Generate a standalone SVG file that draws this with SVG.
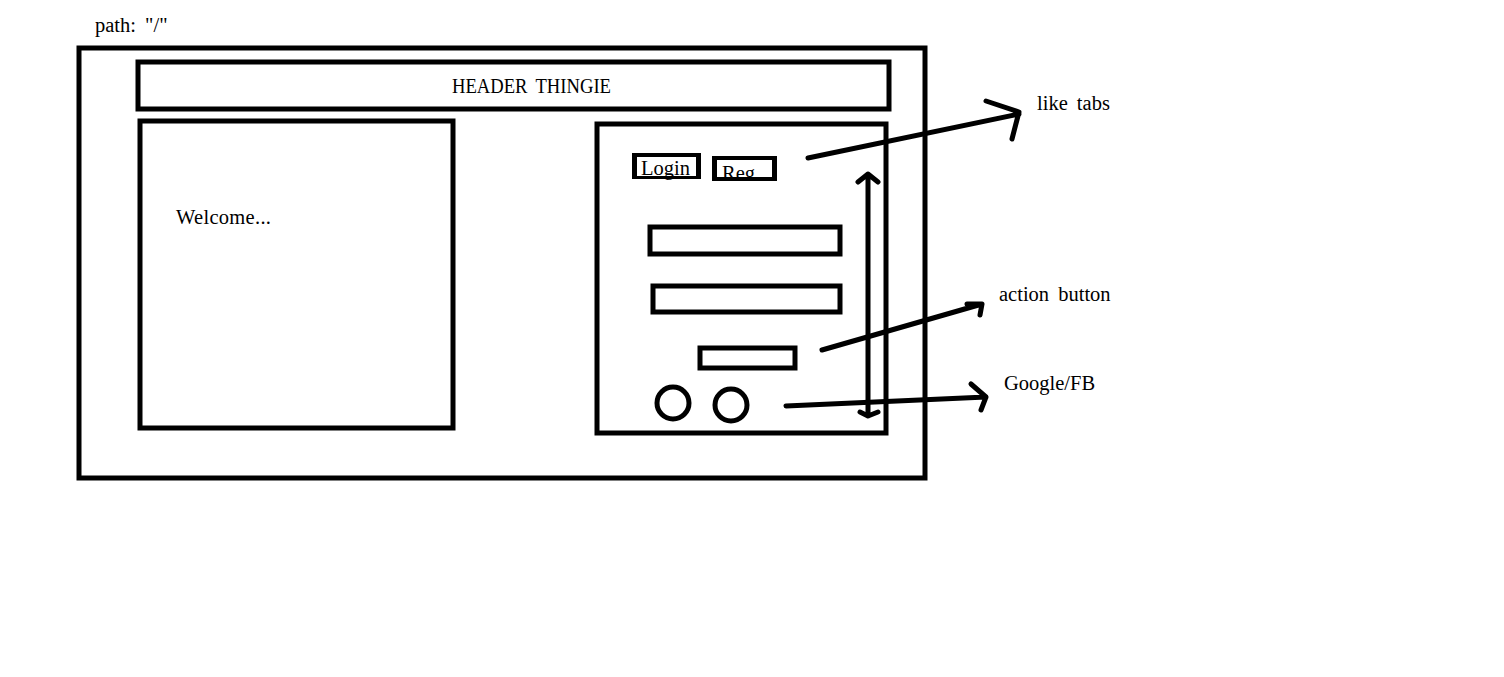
<svg xmlns="http://www.w3.org/2000/svg" width="1504" height="677" viewBox="0 0 1504 677">
<style>
.box{fill:none;stroke:#000;stroke-width:5}
.t{font-family:"Liberation Serif","DejaVu Serif",serif;font-size:20.5px;fill:#000;word-spacing:4px}
.ln{fill:none;stroke:#000;stroke-width:5;stroke-linecap:round;stroke-linejoin:round}
</style>
<rect width="1504" height="677" fill="#fff"/>
<text class="t" x="95" y="32">path: "/"</text>
<g id="page"><rect class="box" x="79" y="48" width="846" height="430"/></g>
<g id="header"><rect class="box" x="138" y="62" width="751" height="47"/><text class="t" x="452" y="93" textLength="159" lengthAdjust="spacingAndGlyphs">HEADER THINGIE</text></g>
<g id="welcome"><rect class="box" x="140" y="121" width="313" height="307"/><text class="t" x="176" y="224" letter-spacing="0.3">Welcome...</text></g>
<g id="auth"><rect class="box" x="597" y="124" width="289" height="309"/></g>
<g id="tab-login"><rect x="632" y="153" width="69" height="26" fill="#000"/><rect x="637" y="157" width="59" height="19" fill="#fff"/><text class="t" x="641" y="175">Login</text></g>
<g id="tab-reg"><rect x="712" y="156" width="65" height="25" fill="#000"/><rect x="717" y="160" width="55" height="17" fill="#fff"/><svg x="717" y="160" width="55" height="17" overflow="hidden"><text class="t" x="5" y="20">Reg</text></svg></g>
<g id="input1"><rect class="box" x="650" y="227" width="190" height="27"/></g>
<g id="input2"><rect class="box" x="653" y="286" width="187" height="26"/></g>
<g id="action"><rect class="box" x="700" y="348" width="95" height="20"/></g>
<g id="google"><circle class="box" cx="673" cy="403" r="16"/></g>
<g id="fb"><circle class="box" cx="731" cy="405" r="16"/></g>
<g id="connectors">
<path class="ln" d="M868 174 L868 416 M858 182 L868 174 L878 182 M860 412 L868 416 L878 412"/>
<path class="ln" d="M808 158 L1019 114 M986 101 L1019 112 L1012 139"/>
<path class="ln" d="M822 350 L982 304 M967 304 L982 304 L980 315"/>
<path class="ln" d="M786 406 L986 397 M971 384 L986 397 L981 410"/>
</g>
<text class="t" x="1037" y="110">like tabs</text>
<text class="t" x="999" y="301">action button</text>
<text class="t" x="1004" y="390">Google/FB</text>
</svg>
